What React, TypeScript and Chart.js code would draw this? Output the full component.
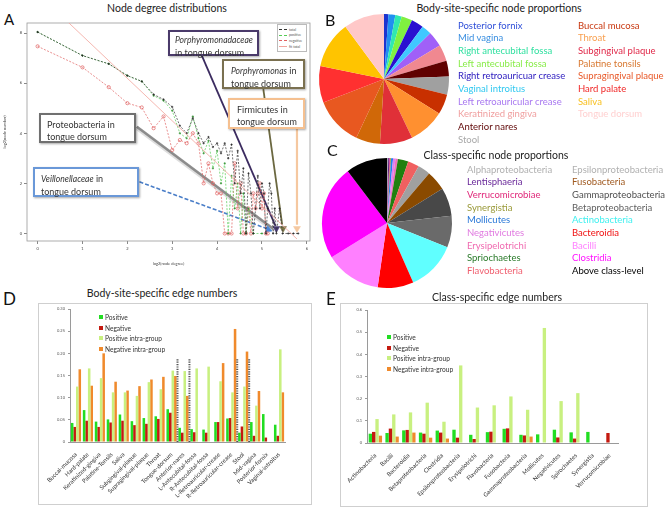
import React, { useEffect, useRef } from "react";
import { Chart, registerables } from "chart.js";

Chart.register(...registerables);

const FONT = "Lato, 'Open Sans', 'DejaVu Sans', sans-serif";

// ---------------- Panel A: node degree distributions ----------------
const totalX = [0, 1, 1.585, 2, 2.322, 2.585, 2.807, 3, 3.17, 3.322, 3.459, 3.585, 3.7, 3.807, 3.907, 4, 4.087, 4.17, 4.248, 4.322, 4.392, 4.459, 4.524, 4.585, 4.644, 4.7, 4.755, 4.807, 4.858, 4.907, 4.954, 5, 5.044, 5.087, 5.129, 5.17, 5.209, 5.248, 5.285, 5.322, 5.392, 5.459, 5.585, 5.7, 5.807];
const totalY = [8.04, 7.1, 6.77, 6.3, 6.07, 5.55, 5.35, 5.05, 4.3, 4.0, 4.6, 4.0, 3.6, 3.85, 3.45, 3.6, 3.2, 3.6, 3.0, 3.55, 2.0, 3.3, 1.6, 2.6, 0, 2.4, 1.6, 0, 1.0, 2.3, 1.0, 2.0, 1.6, 0, 1.0, 2.0, 1.6, 0, 1.0, 0, 1.0, 0, 0, 0, 0];
const positiveX = [0, 1, 1.585, 2, 2.322, 2.585, 2.807, 3, 3.17, 3.322, 3.459, 3.585, 3.7, 3.807, 3.907, 4, 4.087, 4.17, 4.248, 4.322, 4.392, 4.459, 4.524, 4.585, 4.644, 4.7, 4.807, 5];
const positiveY = [8.04, 7.1, 6.77, 6.3, 6.07, 5.5, 5.3, 4.9, 4.0, 3.8, 4.67, 3.8, 3.2, 3.7, 2.6, 3.3, 2.0, 2.8, 0, 2.3, 1.0, 2.0, 0, 1.6, 0, 1.0, 0, 0];
const negativeX = [0, 1, 1.585, 2, 2.322, 2.585, 2.807, 3, 3.17, 3.322, 3.459, 3.585, 3.7, 3.807, 3.907, 4, 4.087, 4.17, 4.248, 4.322, 4.392, 4.459, 4.524, 4.585, 4.644, 4.7, 4.755, 4.807, 4.858, 4.907, 4.954, 5, 5.044, 5.087, 5.129];
const negativeY = [7.47, 6.63, 5.84, 5.2, 5.03, 4.2, 4.67, 3.33, 3.73, 3.6, 4.0, 3.6, 2.0, 2.8, 2.0, 1.6, 1.6, 0, 0, 0, 2.8, 1.0, 2.0, 0, 0, 1.0, 0, 1.6, 1.0, 1.6, 2.0, 1.0, 1.6, 0, 0];
const fitX = [0.64, 5.78];
const fitY = [8.5, -0.22];
const markerX = [5.14, 5.32, 5.47, 5.78];
const markerY = [0.15, 0.2, 0.2, 0.2];
const markerColors = ["#4a86d8", "#4a3a78", "#7a7448", "#f5c8a0"];
const markerRotation = [110, 180, 180, 180];
const arrowStartX = [3.66, 5.03, 5.78, 2.21, 2.27];
const arrowStartY = [7.1, 5.76, 4.2, 4.26, 2.06];
const arrowEndX = [5.3, 5.45, 5.78, 5.24, 5.1];
const arrowEndY = [0.3, 0.35, 0.35, 0.2, 0.2];
const arrowColors = ["#3c2c60", "#6b6840", "#f5c8a0", "#8c8c8c", "#4a7ec8"];
const arrowWidths = [1.8, 1.8, 2.2, 2.5, 1.6];
const arrowDashes: number[][] = [[], [], [], [], [4, 2]];

// ---------------- Panel B: body-site node proportions ----------------
const siteNames = ["Posterior fornix", "Mid vagina", "Right antecubital fossa", "Left antecubital fossa", "Right retroauricuar crease", "Vaginal introitus", "Left retroauricular crease", "Keratinized gingiva", "Anterior nares", "Stool", "Buccal mucosa", "Throat", "Subgingival plaque", "Palatine tonsils", "Supragingival plaque", "Hard palate", "Saliva", "Tongue dorsum"];
const siteShares = [1.1, 1.7, 1.6, 2.7, 3.0, 2.5, 3.8, 4.1, 3.9, 4.5, 5.0, 9.0, 8.1, 6.0, 12.1, 9.1, 11.7, 10.1];
const siteSliceColors = ["#1c34d0", "#2090f0", "#30e8b0", "#80f040", "#2a10d0", "#40c8ff", "#a060f8", "#f08890", "#600000", "#a0a0a0", "#c83000", "#ff9030", "#e03038", "#d06808", "#e85820", "#ff3030", "#ffc400", "#ffc8c8"];
const siteTextColors = ["#2f4fd8", "#3a8fe0", "#30e0a0", "#88ec48", "#3020c0", "#30c8f0", "#a878f0", "#f0a0a0", "#600808", "#a8a8a8", "#c83810", "#f8a050", "#e02848", "#d87830", "#e85828", "#f02828", "#f8c020", "#ffd0d0"];

// ---------------- Panel C: class node proportions ----------------
const classNames = ["Alphaproteobacteria", "Lentisphaeria", "Verrucomicrobiae", "Synergistia", "Mollicutes", "Negativicutes", "Erysipelotrichi", "Spriochaetes", "Flavobacteria", "Epsilonproteobacteria", "Fusobacteria", "Gammaproteobacteria", "Betaproteobacteria", "Actinobacteria", "Bacteroidia", "Bacilli", "Clostridia", "Above class-level"];
const classShares = [0.3, 0.3, 0.2, 0.2, 0.5, 0.6, 0.6, 2.6, 2.8, 3.1, 5.0, 7.0, 7.9, 12.3, 8.9, 13.9, 23.5, 10.3];
const classSliceColors = ["#b0a8b8", "#602080", "#e0208a", "#a0a030", "#2080f0", "#e080f0", "#f070c0", "#208010", "#f06060", "#a0a0a0", "#8a4a00", "#484848", "#6a6a6a", "#60ffff", "#ff0000", "#ff80ff", "#ff00ff", "#000000"];
const classTextColors = ["#b0b0b0", "#6a2a9a", "#e0287a", "#9a9a3a", "#2a78d8", "#e07ae0", "#f06ab0", "#2a7a2a", "#f06070", "#b0b0b0", "#a05a20", "#505050", "#606060", "#40f0f0", "#f01010", "#ff80ff", "#ff10ff", "#000000"];

// ---------------- Panel D: body-site edge numbers ----------------
const bodySites = ["Buccal-mucosa", "Hard-palate", "Keratinized-gingiva", "Palatine-Tonsils", "Saliva", "Subgingival-plaque", "Supragingival-plaque", "Throat", "Tongue-dorsum", "Anterior-nares", "L-Antecubital-fossa", "R-Antecubital-fossa", "L-Retroauricular-crease", "R-Retroauricular-crease", "Stool", "Mid-vagina", "Posterior-fornix", "Vaginal-introitus"];
const sitePositive = [0.043, 0.072, 0.046, 0.051, 0.062, 0.047, 0.054, 0.058, 0.074, 0.032, 0.029, 0.028, 0.045, 0.053, 0.021, 0.045, 0.063, 0.039];
const siteNegative = [0.034, 0.048, 0.034, 0.044, 0.048, 0.038, 0.041, 0.052, 0.066, 0.021, 0.022, 0.021, 0.045, 0.054, 0.035, 0.014, 0.010, 0.014];
const sitePosIntra = [0.125, 0.166, 0.144, 0.112, 0.112, 0.104, 0.135, 0.119, 0.161, 0.160, 0.166, 0.170, 0.137, 0.112, 0.125, 0.082, null, 0.209];
const siteNegIntra = [0.164, 0.127, 0.200, 0.136, 0.116, 0.126, 0.141, 0.147, 0.149, 0.104, null, null, 0.178, 0.255, 0.204, 0.115, null, 0.112];
const siteDividerIdx = [9, 10, 14, 15];
const siteDividerTop = 0.187;

// ---------------- Panel E: class edge numbers ----------------
const edgeClasses = ["Actinobacteria", "Bacilli", "Bacteroidia", "Betaproteobacteria", "Clostridia", "Epsilonproteobacteria", "Erysipelotrichi", "Flavobacteria", "Fusobacteria", "Gammaproteobacteria", "Mollicutes", "Negativicutes", "Spirochaetes", "Synergistia", "Verrucomicrobiae"];
const classPositive = [0.042, 0.045, 0.057, 0.047, 0.056, 0.060, 0.037, 0.049, 0.064, 0.037, 0.039, 0.060, 0.048, 0.050, null];
const classNegative = [0.050, 0.065, 0.059, 0.042, 0.047, 0.024, 0.018, 0.051, 0.066, 0.034, null, 0.025, 0.020, null, 0.045];
const classPosIntra = [0.108, 0.129, 0.138, 0.182, 0.096, 0.350, 0.160, 0.170, 0.210, 0.150, 0.519, 0.189, 0.225, null, null];
const classNegIntra = [0.033, 0.029, 0.047, 0.024, 0.020, null, null, null, null, 0.029, null, null, null, null, null];

const edgeSeries = ["Positive", "Negative", "Positive intra-group", "Negative intra-group"];
const edgeColors = ["#22dd22", "#c41a10", "#c8f080", "#f08a2c"];

const pts = (xs: number[], ys: number[]) => xs.map((x, i) => ({ x, y: ys[i] }));

function ChartBox({ left, top, width, height, make }: any) {
  const ref = useRef<HTMLCanvasElement>(null);
  useEffect(() => {
    const chart = new Chart(ref.current as HTMLCanvasElement, make());
    return () => chart.destroy();
  }, []);
  return (
    <div style={{ position: "absolute", left, top, width, height }}>
      <canvas ref={ref} width={width} height={height} style={{ width, height, display: "block" }} />
    </div>
  );
}

const framePlugin = {
  id: "frameA",
  beforeDatasetsDraw(chart: any) {
    const { ctx, chartArea: a } = chart;
    ctx.save();
    ctx.strokeStyle = "#9a9a9a";
    ctx.lineWidth = 0.8;
    ctx.strokeRect(a.left, a.top, a.right - a.left, a.bottom - a.top);
    ctx.restore();
  },
};

const arrowsPlugin = {
  id: "arrowsA",
  beforeDatasetDraw(chart: any, args: any) {
    if (args.index !== 4) return;
    const { ctx, scales } = chart;
    ctx.save();
    arrowStartX.forEach((sx, i) => {
      const x1 = scales.x.getPixelForValue(sx);
      const y1 = scales.y.getPixelForValue(arrowStartY[i]);
      const x2 = scales.x.getPixelForValue(arrowEndX[i]);
      const y2 = scales.y.getPixelForValue(arrowEndY[i]);
      if (i === 3) {
        ctx.strokeStyle = "rgba(170,170,170,0.4)";
        ctx.lineWidth = 4.5;
        ctx.setLineDash([]);
        ctx.beginPath();
        ctx.moveTo(x1, y1 + 1);
        ctx.lineTo(x2, y2 + 1);
        ctx.stroke();
      }
      ctx.strokeStyle = arrowColors[i];
      ctx.lineWidth = arrowWidths[i];
      ctx.setLineDash(arrowDashes[i]);
      ctx.beginPath();
      ctx.moveTo(x1, y1);
      ctx.lineTo(x2, y2);
      ctx.stroke();
    });
    ctx.restore();
  },
};

function makeA() {
  return {
    type: "scatter",
    data: {
      datasets: [
        { label: "fit total", data: pts(fitX, fitY), showLine: true, borderColor: "#f2a49c", borderWidth: 0.8, pointRadius: 0 },
        { label: "total", data: pts(totalX, totalY), showLine: true, borderColor: "#333", borderDash: [2, 1.5], borderWidth: 0.7, pointStyle: "cross", pointRadius: 1.1, pointBorderColor: "#222", pointBorderWidth: 0.7 },
        { label: "positive", data: pts(positiveX, positiveY), showLine: true, borderColor: "#55cc55", borderDash: [2, 1.5], borderWidth: 0.7, pointStyle: "cross", pointRadius: 1.1, pointBorderColor: "#2a8a2a", pointBorderWidth: 0.7 },
        { label: "negative", data: pts(negativeX, negativeY), showLine: true, borderColor: "#e06060", borderDash: [2, 1.5], borderWidth: 0.7, pointStyle: "circle", pointRadius: 1.6, pointBackgroundColor: "rgba(0,0,0,0)", pointBorderColor: "#e06060", pointBorderWidth: 0.7 },
        { label: "markers", data: pts(markerX, markerY), showLine: false, pointStyle: "triangle", pointRadius: 4, pointRotation: markerRotation, pointBackgroundColor: markerColors, pointBorderColor: markerColors, pointBorderWidth: 0.5 },
      ],
    },
    options: {
      animation: false,
      responsive: false,
      maintainAspectRatio: false,
      layout: { padding: { top: 23, right: 8, left: 0, bottom: 0 } },
      plugins: { legend: { display: false }, tooltip: { enabled: false } },
      scales: {
        x: {
          type: "linear",
          min: -0.236,
          max: 6.07,
          ticks: { stepSize: 1, includeBounds: false, font: { size: 4, family: FONT }, color: "#444", padding: 2 },
          grid: { drawOnChartArea: false, tickLength: 3, color: "#888" },
          border: { display: false },
          title: { display: true, text: "log2(node degree)", font: { size: 4, family: FONT }, color: "#444", padding: 2 },
          afterFit: (s: any) => { s.height = 27; s.paddingLeft = 0; s.paddingRight = 0; },
        },
        y: {
          type: "linear",
          min: -0.3,
          max: 8.4,
          ticks: { stepSize: 2, includeBounds: false, font: { size: 4, family: FONT }, color: "#444", padding: 2 },
          grid: { drawOnChartArea: false, tickLength: 3, color: "#888" },
          border: { display: false },
          title: { display: true, text: "log2(node number)", font: { size: 4, family: FONT }, color: "#444", padding: 2 },
          afterFit: (s: any) => { s.width = 27; s.paddingTop = 0; s.paddingBottom = 0; },
        },
      },
    },
    plugins: [framePlugin, arrowsPlugin],
  };
}

function makePie(names: string[], values: number[], colors: string[]) {
  return {
    type: "pie",
    data: { labels: names, datasets: [{ data: values, backgroundColor: colors, borderWidth: 0 }] },
    options: {
      animation: false,
      responsive: false,
      maintainAspectRatio: false,
      layout: { padding: 1 },
      plugins: { legend: { display: false }, tooltip: { enabled: false } },
    },
  };
}

const dividerPlugin = {
  id: "dividersD",
  afterDatasetsDraw(chart: any) {
    const { ctx, scales } = chart;
    ctx.save();
    ctx.strokeStyle = "#555";
    ctx.lineWidth = 2;
    ctx.setLineDash([1.2, 1.2]);
    siteDividerIdx.forEach((i) => {
      const x = (scales.x.getPixelForValue(i - 1) + scales.x.getPixelForValue(i)) / 2;
      ctx.beginPath();
      ctx.moveTo(x, scales.y.getPixelForValue(0));
      ctx.lineTo(x, scales.y.getPixelForValue(siteDividerTop));
      ctx.stroke();
    });
    ctx.restore();
  },
};

function makeBars(labels: string[], series: (number | null)[][], yMax: number, step: number, yWidth: number, xHeight: number, padTop: number, padRight: number, catPct: number, plugins: any[]) {
  return {
    type: "bar",
    data: {
      labels,
      datasets: series.map((d, i) => ({ label: edgeSeries[i], data: d, backgroundColor: edgeColors[i], borderWidth: 0 })),
    },
    options: {
      animation: false,
      responsive: false,
      maintainAspectRatio: false,
      layout: { padding: { top: padTop, right: padRight, left: 0, bottom: 0 } },
      plugins: { legend: { display: false }, tooltip: { enabled: false } },
      datasets: { bar: { categoryPercentage: catPct, barPercentage: 1 } },
      scales: {
        x: {
          ticks: { font: { size: 6, family: FONT }, color: "#333", minRotation: 45, maxRotation: 45, padding: 1, autoSkip: false },
          grid: { display: false },
          border: { display: true, color: "#9a9a9a" },
          afterFit: (s: any) => { s.height = xHeight; s.paddingLeft = 0; s.paddingRight = 0; },
        },
        y: {
          min: 0,
          max: yMax,
          ticks: { stepSize: step, font: { size: 4, family: FONT }, color: "#555", padding: 3 },
          grid: { drawOnChartArea: false, tickLength: 2, color: "#9a9a9a" },
          border: { display: true, color: "#9a9a9a" },
          afterFit: (s: any) => { s.width = yWidth; s.paddingTop = 0; s.paddingBottom = 0; },
        },
      },
    },
    plugins,
  };
}

const abs = (o: any): React.CSSProperties => ({ position: "absolute", ...o });

function Box({ left, top, width, height, color, children }: any) {
  return (
    <div style={abs({ left, top, width, height, boxSizing: "border-box", border: `2px solid ${color}`, background: "#fff", boxShadow: "1px 1px 2px rgba(0,0,0,0.35)", fontFamily: FONT, fontSize: 9, lineHeight: "11.5px", color: "#333", padding: "2px 0 0 5px", whiteSpace: "nowrap" })}>
      {children}
    </div>
  );
}

const It = ({ children }: any) => <i style={{ fontSize: 8.6 }}>{children}</i>;

function EdgeLegend({ left, top }: any) {
  return (
    <div style={abs({ left, top, fontFamily: FONT, fontSize: 6.6, lineHeight: "10.6px", color: "#333" })}>
      {edgeSeries.map((s, i) => (
        <div key={s} style={{ display: "flex", alignItems: "center", height: 10.6 }}>
          <span style={{ width: 4, height: 4, background: edgeColors[i], marginRight: 2 }} />
          <span>{s}</span>
        </div>
      ))}
    </div>
  );
}

function PieLegend({ names, colors, split, left1, left2, top, fontSize }: any) {
  const col = (arr: string[], off: number, left: number) => (
    <div style={abs({ left, top, fontFamily: FONT, fontSize, lineHeight: "12.66px", whiteSpace: "nowrap" })}>
      {arr.map((n, i) => (
        <div key={n} style={{ color: colors[i + off], height: 12.66 }}>{n}</div>
      ))}
    </div>
  );
  return (
    <>
      {col(names.slice(0, split), 0, left1)}
      {col(names.slice(split), split, left2)}
    </>
  );
}

const lineRow = (color: string, label: string, dashed: boolean) => (
  <div style={{ display: "flex", alignItems: "center", height: 5.6 }}>
    <span style={{ width: 8, height: 0, borderTop: `0.6px ${dashed ? "dashed" : "solid"} ${color}`, marginRight: 2 }} />
    <span>{label}</span>
  </div>
);

export default function App() {
  const title = (text: string, cx: number, cy: number, size = 10.5) => (
    <div style={abs({ left: cx - 120, top: cy - 7, width: 240, textAlign: "center", fontFamily: FONT, fontSize: size, lineHeight: "14px", color: "#222", whiteSpace: "nowrap" })}>{text}</div>
  );
  const letter = (t: string, left: number, top: number, size: number) => (
    <div style={abs({ left, top, fontFamily: FONT, fontSize: size, lineHeight: `${size}px`, color: "#111" })}>{t}</div>
  );
  return (
    <div style={{ position: "fixed", left: 0, top: 0, width: 671, height: 509, background: "#fff", overflow: "hidden" }}>
      {/* Panel A */}
      {title("Node degree distributions", 167, 8)}
      {letter("A", 4, 12, 15)}
      <ChartBox left={0} top={0} width={318} height={268} make={makeA} />
      <div style={abs({ left: 277, top: 24, width: 30, height: 28, boxSizing: "border-box", border: "0.5px solid #bbb", background: "#fff", fontFamily: FONT, fontSize: 3.5, color: "#555", padding: "2px 0 0 1px" })}>
        {lineRow("#333", "total", true)}
        {lineRow("#55cc55", "positive", true)}
        {lineRow("#e06060", "negative", true)}
        {lineRow("#f2a49c", "fit total", false)}
      </div>
      <Box left={168} top={30} width={91} height={26} color="#4a3a6a">
        <It>Porphyromonadaceae</It><br />in tongue dorsum
      </Box>
      <Box left={222} top={59} width={83} height={30} color="#7a7050">
        <div style={{ paddingLeft: 2, paddingTop: 2 }}><It>Porphyromonas</It> in<br />tongue dorsum</div>
      </Box>
      <Box left={228} top={98} width={77} height={31} color="#f5c090">
        <div style={{ paddingLeft: 2, paddingTop: 2 }}>Firmicutes in<br />tongue dorsum</div>
      </Box>
      <Box left={39} top={113} width={97} height={30} color="#707070">
        <div style={{ paddingLeft: 1, paddingTop: 2 }}>Proteobacteria in<br />tongue dorsum</div>
      </Box>
      <Box left={33} top={167} width={106} height={30} color="#6a98d8">
        <div style={{ paddingLeft: 1, paddingTop: 2 }}><It>Veillonellaceae</It> in<br />tongue dorsum</div>
      </Box>

      {/* Panel B */}
      {letter("B", 325, 12, 16)}
      {title("Body-site-specific node proportions", 499, 8)}
      <ChartBox left={318} top={13} width={132} height={132} make={() => makePie(siteNames, siteShares, siteSliceColors)} />
      <PieLegend names={siteNames} colors={siteTextColors} split={10} left1={458} left2={578} top={19.7} fontSize={9.5} />

      {/* Panel C */}
      {letter("C", 327, 142, 16)}
      {title("Class-specific node proportions", 496, 155)}
      <ChartBox left={321} top={157} width={132} height={132} make={() => makePie(classNames, classShares, classSliceColors)} />
      <PieLegend names={classNames} colors={classTextColors} split={9} left1={467} left2={572} top={163.7} fontSize={9.5} />

      {/* Panel D */}
      {letter("D", 3, 290, 17)}
      {title("Body-site-specific edge numbers", 162, 293)}
      <div style={abs({ left: 38, top: 303, width: 274, height: 202, boxSizing: "border-box", border: "1px solid #cfcfcf" })} />
      <ChartBox left={38} top={303} width={274} height={202} make={() => makeBars(bodySites, [sitePositive, siteNegative, sitePosIntra, siteNegIntra], 0.3, 0.05, 32, 63, 6, 27, 0.85, [dividerPlugin])} />
      <EdgeLegend left={99} top={312} />

      {/* Panel E */}
      {letter("E", 326, 290, 17)}
      {title("Class-specific edge numbers", 497, 297)}
      <div style={abs({ left: 340, top: 303, width: 308, height: 204, boxSizing: "border-box", border: "1px solid #cfcfcf" })} />
      <ChartBox left={340} top={303} width={308} height={204} make={() => makeBars(edgeClasses, [classPositive, classNegative, classPosIntra, classNegIntra], 0.6, 0.1, 27, 64, 7, 30, 0.8, [])} />
      <EdgeLegend left={387} top={332} />
    </div>
  );
}
